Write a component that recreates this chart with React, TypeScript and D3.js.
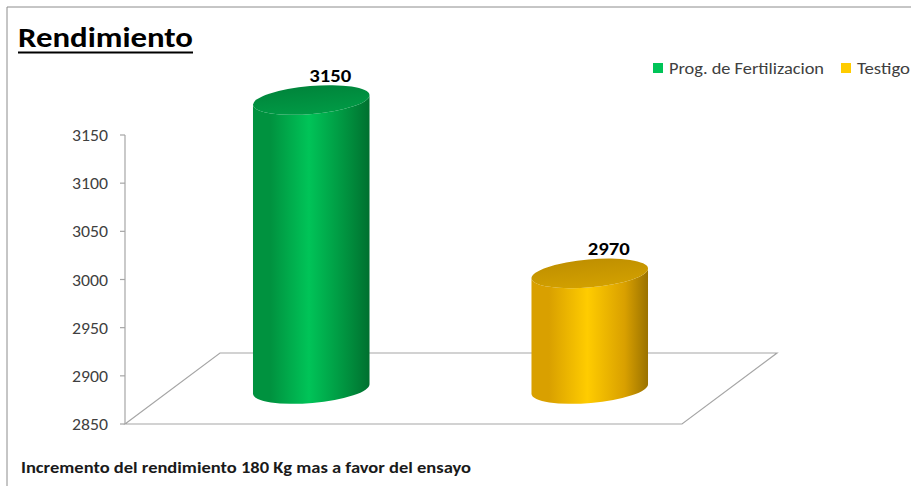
import React from "react";
import * as d3 from "d3";

const categories = ["Prog. de Fertilizacion", "Testigo"];
const values = [3150, 2970];
const yTicks = [2850, 2900, 2950, 3000, 3050, 3100, 3150];
const titleText = "Rendimiento";
const footnote = "Incremento del rendimiento 180 Kg mas a favor del ensayo";

const W = 911;
const H = 486;
const FONT = "Carlito, Lato, 'Open Sans', sans-serif";

const colors = [
  { dark: "#00702f", mid: "#00c458", left: "#00923f", top: "#00853b", topLight: "#009a45" },
  { dark: "#9a7200", mid: "#ffcc00", left: "#d9a000", top: "#c09000", topLight: "#d2a000" },
];

export default function App() {
  const y = d3.scaleLinear().domain([2850, 3150]).range([424, 135]);
  const x = d3.scaleBand().domain(categories).range([125, 682]).paddingInner(0.58).paddingOuter(0.29);
  const depthDx = 95;
  const depthDy = -71;
  const cylDx = 47;
  const cylDy = -35;
  const rx = x.bandwidth() / 2;
  const ry = 14;
  const rot = -5;
  const th = (rot * Math.PI) / 180;
  const ex = rx * Math.cos(th);
  const ey = rx * Math.sin(th);

  const x0 = 125;
  const x1 = 682;
  const y0 = y(2850);

  return (
    <svg width={W} height={H} style={{ position: "absolute", left: 0, top: 0 }}>
      <defs>
        {colors.map((c, i) => (
          <React.Fragment key={i}>
            <linearGradient id={`body${i}`} x1="0" x2="1" y1="0" y2="0">
              <stop offset="0%" stopColor={c.left} />
              <stop offset="15%" stopColor={c.left} />
              <stop offset="48%" stopColor={c.mid} />
              <stop offset="80%" stopColor={c.left} />
              <stop offset="100%" stopColor={c.dark} />
            </linearGradient>
            <linearGradient id={`top${i}`} x1="0" x2="0" y1="0" y2="1">
              <stop offset="0%" stopColor={c.top} />
              <stop offset="100%" stopColor={c.topLight} />
            </linearGradient>
          </React.Fragment>
        ))}
      </defs>
      <rect x={0} y={0} width={W} height={H} fill="#ffffff" />
      <path d={`M7,${H + 2} L7,7 L${W + 2},7`} fill="none" stroke="#8c8c8c" strokeWidth={1} />

      <text x={18} y={47} fontFamily={FONT} fontWeight="bold" fontSize={28} fill="#000" textLength={175} lengthAdjust="spacingAndGlyphs">
        {titleText}
      </text>
      <line x1={18} x2={193} y1={52.5} y2={52.5} stroke="#000" strokeWidth={2} />

      <rect x={653} y={63} width={10} height={10} fill={colors[0].mid} />
      <text x={669} y={74} fontFamily={FONT} fontSize={16} fill="#404040" textLength={155} lengthAdjust="spacingAndGlyphs">
        {categories[0]}
      </text>
      <rect x={841} y={63} width={10} height={10} fill={colors[1].mid} />
      <text x={857} y={74} fontFamily={FONT} fontSize={16} fill="#404040" textLength={53} lengthAdjust="spacingAndGlyphs">
        {categories[1]}
      </text>

      <g fill="none" stroke="#a6a6a6" strokeWidth={1.2}>
        <path d={`M${x0},${y0} L${x0 + depthDx},${y0 + depthDy} L${x1 + depthDx},${y0 + depthDy} L${x1},${y0} Z`} />
      </g>

      <line x1={x0} x2={x0} y1={y(3150)} y2={y0} stroke="#a6a6a6" strokeWidth={1.2} />
      {yTicks.map((t) => (
        <g key={t}>
          <line x1={x0 - 5} x2={x0} y1={y(t)} y2={y(t)} stroke="#a6a6a6" strokeWidth={1.2} />
          <text x={108} y={y(t) + 6} textAnchor="end" fontFamily={FONT} fontSize={17} fill="#404040" textLength={36} lengthAdjust="spacingAndGlyphs">
            {t}
          </text>
        </g>
      ))}

      {categories.map((cat, i) => {
        const cx = (x(cat) as number) + rx + cylDx;
        const yb = y(2850) + cylDy;
        const yt = y(values[i]) + cylDy;
        const body = `M${cx - ex},${yt - ey} L${cx - ex},${yb - ey} A${rx},${ry} ${rot} 0 0 ${cx + ex},${yb + ey} L${cx + ex},${yt + ey} A${rx},${ry} ${rot} 0 1 ${cx - ex},${yt - ey} Z`;
        return (
          <g key={cat}>
            <path d={body} fill={`url(#body${i})`} />
            <ellipse cx={cx} cy={yt} rx={rx} ry={ry} transform={`rotate(${rot} ${cx} ${yt})`} fill={`url(#top${i})`} />
            <text x={cx + 19} y={yt - 18} textAnchor="middle" fontFamily={FONT} fontWeight="bold" fontSize={18} fill="#000" textLength={42} lengthAdjust="spacingAndGlyphs">
              {values[i]}
            </text>
          </g>
        );
      })}

      <text x={21} y={473} fontFamily={FONT} fontWeight="bold" fontSize={16} fill="#1a1a1a" textLength={450} lengthAdjust="spacingAndGlyphs">
        {footnote}
      </text>
    </svg>
  );
}
